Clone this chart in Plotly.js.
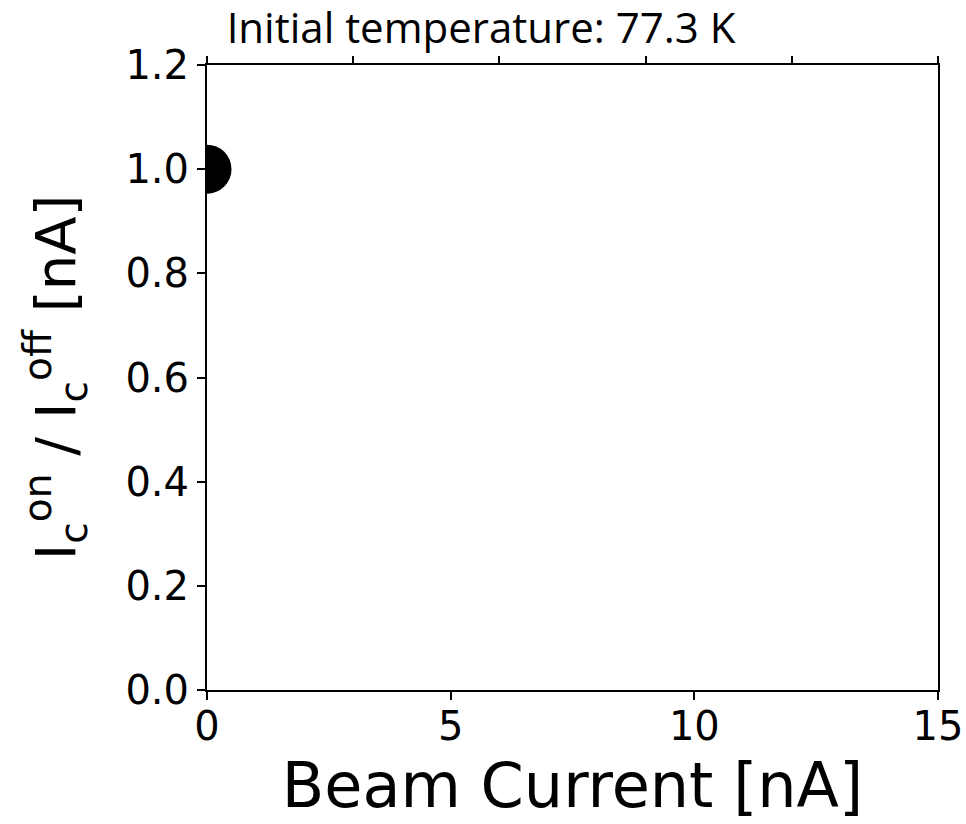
<!DOCTYPE html>
<html><head><meta charset="utf-8">
<script src="https://cdn.plot.ly/plotly-3.0.1.min.js"></script>
<style>html,body{margin:0;padding:0;background:#fff}</style>
</head><body>
<div id="chart" style="width:966px;height:824px"></div>
<script>
const beamCurrent = [0];
const icRatio = [1.0];
const xTicks = [0, 5, 10, 15];
const xTopTicks = [0, 3, 6, 9, 12, 15];
const yTicks = [0, 0.2, 0.4, 0.6, 0.8, 1.0, 1.2];
const yTickLabels = ['0.0', '0.2', '0.4', '0.6', '0.8', '1.0', '1.2'];

const traces = [{
  x: beamCurrent, y: icRatio, type: 'scatter', mode: 'markers',
  marker: {color: '#000', size: 49}, cliponaxis: true, showlegend: false
}, {
  x: [], y: [], xaxis: 'x2', type: 'scatter', showlegend: false
}];

const layout = {
  width: 966, height: 824,
  margin: {l: 207, r: 28, t: 65, b: 134},
  paper_bgcolor: '#fff', plot_bgcolor: '#fff',
  font: {family: 'DejaVu Sans', color: '#000'},
  title: {text: 'Initial temperature: 77.3 K', font: {family: 'Open Sans', size: 42, color: '#000'},
          x: 0.498, xanchor: 'center', xref: 'container', yref: 'container', y: 0.966, yanchor: 'middle'},
  xaxis: {range: [0, 15], tickvals: xTicks, ticktext: xTicks.map(String),
          ticks: 'outside', ticklen: 8, tickwidth: 2, tickcolor: '#000',
          tickfont: {size: 40}, ticklabelstandoff: -8, showgrid: false, zeroline: false,
          showline: true, linecolor: '#000', linewidth: 2, mirror: true,
          title: {text: 'Beam Current [nA]', font: {size: 62}, standoff: 9}},
  xaxis2: {range: [0, 15], overlaying: 'x', side: 'top', tickvals: xTopTicks,
           showticklabels: false, ticks: 'outside', ticklen: 8, tickwidth: 2, tickcolor: '#000',
           showgrid: false, zeroline: false, showline: false},
  yaxis: {range: [0, 1.2], tickvals: yTicks, ticktext: yTickLabels,
          ticks: 'outside', ticklen: 8, tickwidth: 2, tickcolor: '#000',
          tickfont: {size: 40}, showgrid: false, zeroline: false,
          showline: true, linecolor: '#000', linewidth: 2, mirror: true,
          title: {text: 'I<sub>c</sub><sup>on</sup> / I<sub>c</sub><sup>off</sup> [nA]', font: {size: 56}, standoff: 32}}
};
Plotly.newPlot('chart', traces, layout, {displayModeBar: false});
</script>
</body></html>
